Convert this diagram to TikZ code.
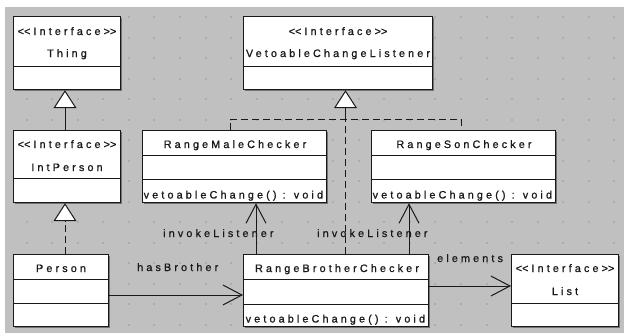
\documentclass[tikz,border=0pt]{standalone}
\usepackage{fontspec}
\newfontfamily\umlfont[LetterSpace=29,FakeBold=0.9]{Liberation Sans}
\usetikzlibrary{arrows.meta,shadows}
\definecolor{bgc}{RGB}{192,192,192}
\definecolor{dotc}{RGB}{172,172,172}
\definecolor{linec}{RGB}{25,25,25}
\newcommand{\stereo}{<\kern0pt<Interface>\kern0pt>}
\begin{document}
\begin{tikzpicture}[x=1pt,y=-1pt,
  cls/.style={draw=linec, fill=white, line width=1.2pt, inner sep=0pt, anchor=north west,
    drop shadow={shadow xshift=1pt, shadow yshift=-1pt, fill=black!55, opacity=1}},
  div/.style={draw=linec, line width=1pt},
  txt/.style={inner sep=0pt, font=\umlfont\fontsize{10.8}{12}\selectfont, text=black!90, anchor=base},
  mtxt/.style={txt, anchor=base west},
  lbl/.style={txt, anchor=base west},
  assoc/.style={draw=linec, line width=1pt, -{Straight Barb[length=19pt,width=20pt,line width=1pt]}},
  gen/.style={draw=linec, line width=1pt, -{Triangle[length=18pt,width=23pt,fill=white,line width=1pt]}},
  real/.style={draw=linec, line width=1pt, dash pattern=on 7pt off 4pt},
  realtip/.style={real, -{Triangle[length=18pt,width=23pt,fill=white,line width=1pt]}}
]
\useasboundingbox (0,0) rectangle (624,333);
\fill[white] (0,0) rectangle (624,333);
\fill[bgc] (5,7) rectangle (624,333);
\foreach \i in {1,...,24} {
  \foreach \j in {0,...,15} {
    \fill[dotc] ({0.1+25.55*\i},{16+20.5*\j}) rectangle ++(2,2);
  }
}

% ---- class boxes ----
\node[cls, minimum width=107pt, minimum height=73pt] (thing) at (13,16) {};
\draw[div] (thing.west |- 0,66) -- (thing.east |- 0,66);
\node[txt] (thing-s) at (67,35) {\stereo};
\node[txt] (thing-n) at (67,57) {Thing};

\node[cls, minimum width=107pt, minimum height=72pt] (intp) at (13,130) {};
\draw[div] (intp.west |- 0,178) -- (intp.east |- 0,178);
\node[txt] (intp-s) at (67,148) {\stereo};
\node[txt] (intp-n) at (67,171) {IntPerson};

\node[cls, minimum width=95pt, minimum height=72pt] (person) at (13,254) {};
\draw[div] (person.west |- 0,279) -- (person.east |- 0,279);
\draw[div] (person.west |- 0,303) -- (person.east |- 0,303);
\node[txt] (person-n) at (61,272) {Person};

\node[cls, minimum width=189pt, minimum height=73pt] (vcl) at (243,16) {};
\draw[div] (vcl.west |- 0,66) -- (vcl.east |- 0,66);
\node[txt] (vcl-s) at (338,35) {\stereo};
\node[txt] (vcl-n) at (338,57) {VetoableChangeListener};

\node[cls, minimum width=184pt, minimum height=72pt] (male) at (142,130) {};
\draw[div] (male.west |- 0,155) -- (male.east |- 0,155);
\draw[div] (male.west |- 0,179) -- (male.east |- 0,179);
\node[txt] (male-n) at (235,148) {RangeMaleChecker};
\node[mtxt] (male-m) at (143.5,198.5) {vetoableChange() : void};

\node[cls, minimum width=184pt, minimum height=72pt] (son) at (371,130) {};
\draw[div] (son.west |- 0,155) -- (son.east |- 0,155);
\draw[div] (son.west |- 0,179) -- (son.east |- 0,179);
\node[txt] (son-n) at (464,148) {RangeSonChecker};
\node[mtxt] (son-m) at (372.5,198.5) {vetoableChange() : void};

\node[cls, minimum width=185pt, minimum height=72pt] (brother) at (243,254) {};
\draw[div] (brother.west |- 0,279) -- (brother.east |- 0,279);
\draw[div] (brother.west |- 0,304) -- (brother.east |- 0,304);
\node[txt] (brother-n) at (337,272) {RangeBrotherChecker};
\node[mtxt] (brother-m) at (245.5,322.5) {vetoableChange() : void};

\node[cls, minimum width=107pt, minimum height=72pt] (list) at (511,254) {};
\draw[div] (list.west |- 0,303) -- (list.east |- 0,303);
\node[txt] (list-s) at (565,272) {\stereo};
\node[txt] (list-n) at (565,295) {List};

% ---- generalisation / realisation ----
\draw[gen] (intp.north -| 65,0) -- (thing.south -| 65,0);
\draw[realtip] (person.north -| 65,0) -- (intp.south -| 65,0);

\coordinate (jn) at (345.5,119);
\coordinate (mj) at (230,119);
\coordinate (sj) at (461,119);
\draw[gen] (jn) -- (vcl.south -| jn);
\draw[real] (brother.north -| jn) -- (jn);
\draw[real] (male.north -| mj) -- (mj) -- (sj) -- (son.north -| sj);

% ---- associations ----
\draw[assoc] (person.east |- 0,295) -- (brother.west |- 0,295);
\node[lbl] (hasb) at (137,271) {hasBrother};

\draw[assoc] (brother.north -| 256,0) -- (male.south -| 256,0);
\node[lbl] (inv1) at (163,237) {invokeListener};

\draw[assoc] (brother.north -| 409,0) -- (son.south -| 409,0);
\node[lbl] (inv2) at (317,237) {invokeListener};

\draw[assoc] (brother.east |- 0,286) -- (list.west |- 0,286);
\node[lbl] (elem) at (437,262) {elements};
\end{tikzpicture}
\end{document}
